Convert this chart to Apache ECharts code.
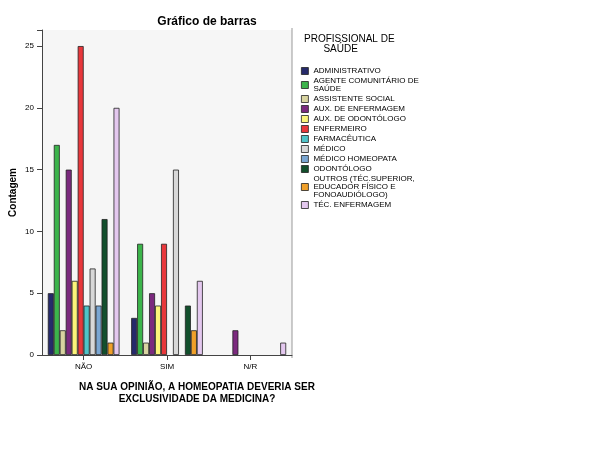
<!DOCTYPE html>
<html>
<head>
<meta charset="utf-8">
<script src="https://cdn.jsdelivr.net/npm/echarts@6/dist/echarts.min.js"></script>
<style>body{margin:0;background:#fff}#c{width:614px;height:460px}</style>
</head>
<body>
<div id="c"></div>
<script>
var myChart = echarts.init(document.getElementById('c'));

var categories = ['NÃO', 'SIM', 'N/R'];
var names = ['ADMINISTRATIVO', 'AGENTE COMUNITÁRIO DE\nSAÚDE', 'ASSISTENTE SOCIAL', 'AUX. DE ENFERMAGEM',
  'AUX. DE ODONTÓLOGO', 'ENFERMEIRO', 'FARMACÊUTICA', 'MÉDICO', 'MÉDICO HOMEOPATA', 'ODONTÓLOGO',
  'OUTROS (TÉC.SUPERIOR,\nEDUCADOR FÍSICO E\nFONOAUDIÓLOGO)', 'TÉC. ENFERMAGEM'];
var colors = ['#262a6b', '#3cb44b', '#d8d4a0', '#7b2a7e', '#fbf47a', '#e8373b', '#4fc3c8',
  '#d8d8d8', '#7aa6d2', '#124f2c', '#f0a02a', '#e4c8ef'];
// valores por categoria: NÃO, SIM, N/R (null = sem barra)
var values = [
  [5, 3, null],
  [17, 9, null],
  [2, 1, null],
  [15, 5, 2],
  [6, 4, null],
  [25, 9, null],
  [4, null, null],
  [7, 15, null],
  [4, null, null],
  [11, 4, null],
  [1, 2, null],
  [20, 6, 1]
];
var yTicks = { min: 0, max: 26.3, interval: 5 };

var series = names.map(function (n, i) {
  return {
    name: n, type: 'bar', data: values[i], barGap: '0%', barCategoryGap: '14%',
    itemStyle: { color: colors[i], borderColor: '#222', borderWidth: 0.8 }
  };
});

option = {
  animation: false,
  title: {
    text: 'Gráfico de barras', left: 202, top: 11, textAlign: 'center',
    textStyle: { fontSize: 12, fontWeight: 'bold', color: '#000', fontFamily: 'Liberation Sans Narrow, Liberation Sans' }
  },
  legend: {
    orient: 'vertical', left: 296, top: 62, itemWidth: 7, itemHeight: 7, itemGap: 2,
    icon: 'rect', textStyle: { fontSize: 8, color: '#000', fontFamily: 'Liberation Sans Narrow, Liberation Sans', lineHeight: 8 },
    itemStyle: { borderColor: '#222', borderWidth: 0.8 }
  },
  graphic: [
    { type: 'text', left: 304, top: 34, style: { text: 'PROFISSIONAL DE\n       SAÚDE', fontSize: 10, fill: '#000', fontFamily: 'Liberation Sans Narrow, Liberation Sans' } },
    { type: 'line', shape: { x1: 292, y1: 28, x2: 292, y2: 358 }, style: { stroke: '#999', lineWidth: 1 } }
  ],
  grid: { left: 42, right: 322, top: 30, bottom: 105, backgroundColor: '#f6f6f6', show: true, borderWidth: 0 },
  xAxis: {
    type: 'category', data: categories,
    name: 'NA SUA OPINIÃO, A HOMEOPATIA DEVERIA SER\nEXCLUSIVIDADE DA MEDICINA?',
    nameLocation: 'middle', nameGap: 26,
    nameTextStyle: { fontSize: 10, fontWeight: 'bold', color: '#000', fontFamily: 'Liberation Sans Narrow, Liberation Sans', lineHeight: 12, padding: [0, 0, 0, 60] },
    axisLine: { lineStyle: { color: '#444' } },
    axisTick: { show: true, alignWithLabel: true, lineStyle: { color: '#444' } },
    axisLabel: { fontSize: 8, color: '#000', fontFamily: 'Liberation Sans' }
  },
  yAxis: {
    type: 'value', min: yTicks.min, max: yTicks.max, interval: yTicks.interval,
    name: 'Contagem', nameLocation: 'middle', nameGap: 24,
    nameTextStyle: { fontSize: 10, fontWeight: 'bold', color: '#000', fontFamily: 'Liberation Sans' },
    axisLine: { show: true, lineStyle: { color: '#444' } },
    axisTick: { show: true, lineStyle: { color: '#444' } },
    axisLabel: { fontSize: 8, color: '#000', fontFamily: 'Liberation Sans',
      formatter: function (v) { return v % 5 === 0 ? v : ''; } },
    splitLine: { show: false }
  },
  series: series
};

myChart.setOption(option);
</script>
</body>
</html>
